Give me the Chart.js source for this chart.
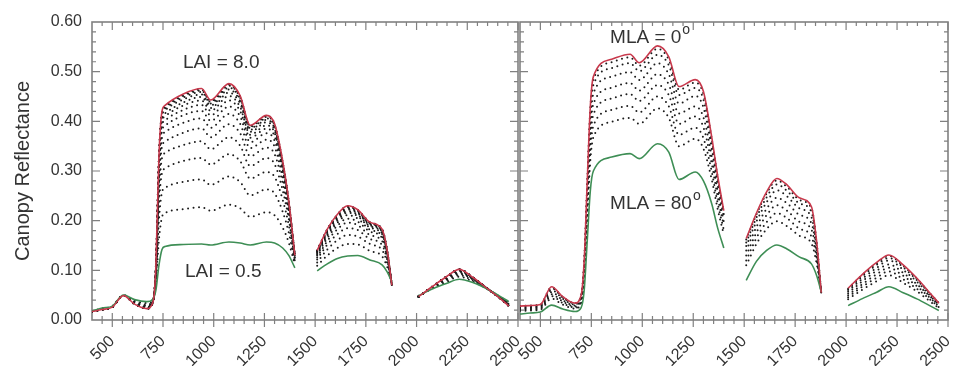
<!DOCTYPE html>
<html>
<head>
<meta charset="utf-8">
<script src="https://cdn.jsdelivr.net/npm/chart.js@4/dist/chart.umd.min.js"></script>
<style>
  html, body { margin: 0; padding: 0; background: #fff; overflow: hidden; width: 958px; height: 366px; }
  #wrap { position: relative; width: 958px; height: 366px; }
  canvas { position: absolute; top: 0; }
  #lai { left: 0; }
  #mla { left: 500px; }
</style>
</head>
<body>
<div id="wrap">
  <canvas id="lai" width="545" height="366"></canvas>
  <canvas id="mla" width="480" height="366"></canvas>
</div>
<script>
// Wavelength grid (nm); null rows split the spectrum at the water absorption bands
const WAVELENGTH = [400,450,500,555,610,670,700,715,730,745,760,850,940,985,1075,1130,1180,1260,1300,1340,1370,1400,1450,
  1510,1560,1610,1660,1710,1770,1830,1855,1878,1950,
  2010,2080,2150,2210,2280,2350,2410,2455];
const X_TICKS = [500, 750, 1000, 1250, 1500, 1750, 2000, 2250, 2500];

// Canopy reflectance for leaf area index 0.5 ... 8.0
const LAI_0_5 = [.018,.024,.028,.050,.041,.037,.042,.060,.110,.142,.148,.152,.153,.151,.157,.155,.151,.157,.155,.145,.130,.105,null,.099,.113,.124,.129,.130,.121,.111,.097,.077,null,.049,.063,.074,.082,.075,.062,.048,.037];
const LAI_1_0 = [.018,.023,.028,.050,.039,.034,.040,.072,.162,.207,.215,.223,.227,.220,.232,.225,.208,.217,.211,.186,.156,.111,null,.109,.130,.145,.153,.152,.139,.128,.107,.075,null,.049,.064,.077,.087,.077,.062,.047,.035];
const LAI_1_5 = [.018,.023,.027,.050,.037,.031,.039,.081,.201,.257,.266,.278,.283,.272,.289,.278,.251,.263,.255,.218,.176,.115,null,.116,.142,.161,.171,.168,.153,.141,.115,.074,null,.048,.065,.080,.090,.079,.062,.046,.033];
const LAI_2_0 = [.017,.022,.027,.049,.036,.029,.038,.088,.232,.296,.305,.320,.326,.313,.334,.320,.285,.298,.288,.242,.191,.119,null,.122,.152,.173,.185,.181,.163,.151,.121,.073,null,.048,.066,.082,.093,.081,.063,.046,.032];
const LAI_2_5 = [.017,.022,.027,.049,.035,.028,.037,.093,.255,.326,.336,.352,.360,.344,.368,.351,.310,.326,.314,.261,.203,.122,null,.126,.159,.183,.196,.191,.171,.159,.125,.072,null,.048,.066,.083,.095,.082,.063,.045,.031];
const LAI_3_0 = [.017,.022,.026,.049,.034,.027,.037,.097,.274,.349,.359,.377,.386,.368,.394,.376,.330,.347,.334,.275,.212,.124,null,.130,.165,.190,.204,.198,.178,.165,.129,.072,null,.048,.067,.084,.097,.082,.063,.045,.030];
const LAI_3_5 = [.017,.022,.026,.049,.034,.026,.036,.100,.288,.367,.378,.397,.406,.387,.415,.395,.346,.363,.349,.286,.219,.125,null,.132,.170,.196,.211,.204,.182,.169,.132,.071,null,.047,.067,.085,.098,.083,.063,.045,.030];
const LAI_4_0 = [.017,.021,.026,.049,.033,.025,.036,.103,.299,.380,.391,.412,.421,.401,.430,.410,.358,.376,.361,.295,.224,.126,null,.134,.173,.200,.216,.209,.186,.173,.134,.071,null,.047,.067,.086,.099,.084,.063,.045,.029];
const LAI_4_5 = [.017,.021,.026,.049,.033,.025,.036,.105,.307,.391,.402,.423,.433,.412,.442,.421,.367,.385,.370,.302,.228,.127,null,.136,.176,.204,.219,.212,.189,.175,.135,.071,null,.047,.067,.087,.100,.084,.063,.044,.029];
const LAI_5_0 = [.017,.021,.026,.049,.033,.024,.036,.106,.313,.399,.410,.432,.442,.421,.451,.429,.373,.392,.377,.307,.232,.128,null,.137,.178,.206,.222,.215,.191,.178,.137,.071,null,.047,.068,.087,.101,.084,.063,.044,.029];
const LAI_5_5 = [.017,.021,.026,.049,.033,.024,.035,.107,.318,.405,.416,.438,.449,.427,.458,.436,.379,.398,.382,.310,.234,.129,null,.138,.179,.208,.224,.217,.193,.179,.138,.070,null,.047,.068,.087,.101,.085,.063,.044,.028];
const LAI_6_0 = [.017,.021,.026,.049,.032,.023,.035,.108,.322,.410,.422,.444,.454,.432,.464,.441,.383,.403,.386,.314,.236,.129,null,.139,.180,.210,.226,.219,.194,.180,.138,.070,null,.047,.068,.088,.101,.085,.063,.044,.028];
const LAI_6_5 = [.017,.021,.026,.049,.032,.023,.035,.109,.325,.413,.425,.448,.459,.436,.468,.445,.386,.406,.389,.316,.237,.129,null,.139,.181,.211,.228,.220,.195,.181,.139,.070,null,.047,.068,.088,.102,.085,.063,.044,.028];
const LAI_7_0 = [.017,.021,.026,.049,.032,.023,.035,.109,.327,.416,.428,.451,.462,.439,.472,.448,.389,.409,.392,.318,.239,.130,null,.140,.182,.212,.229,.221,.196,.182,.139,.070,null,.047,.068,.088,.102,.085,.063,.044,.028];
const LAI_7_5 = [.017,.021,.026,.049,.032,.023,.035,.110,.329,.418,.430,.453,.464,.441,.474,.450,.391,.411,.394,.319,.239,.130,null,.140,.183,.212,.229,.221,.197,.183,.140,.070,null,.047,.068,.088,.102,.085,.063,.044,.028];
const LAI_8_0 = [.017,.021,.026,.049,.032,.023,.035,.110,.330,.420,.432,.455,.466,.443,.476,.452,.392,.412,.395,.320,.240,.130,null,.140,.183,.213,.230,.222,.197,.183,.140,.070,null,.047,.068,.088,.102,.085,.063,.044,.028];
const LAI_INTERMEDIATE = [LAI_1_0, LAI_1_5, LAI_2_0, LAI_2_5, LAI_3_0, LAI_3_5, LAI_4_0, LAI_4_5, LAI_5_0, LAI_5_5, LAI_6_0, LAI_6_5, LAI_7_0, LAI_7_5];

// Canopy reflectance for mean leaf angle 0 ... 80 degrees
const MLA_00 = [.028,.029,.031,.067,.047,.034,.050,.120,.280,.430,.490,.525,.535,.518,.552,.530,.470,.484,.460,.370,.290,.220,null,.164,.215,.258,.285,.272,.246,.228,.160,.055,null,.064,.092,.116,.131,.111,.083,.055,.034];
const MLA_10 = [.028,.029,.031,.066,.046,.034,.049,.118,.276,.425,.484,.519,.529,.512,.546,.524,.464,.478,.455,.366,.287,.218,null,.162,.212,.255,.281,.268,.242,.225,.158,.055,null,.063,.091,.114,.129,.109,.082,.054,.034];
const MLA_20 = [.027,.028,.030,.064,.045,.033,.048,.115,.269,.415,.473,.507,.517,.501,.534,.513,.453,.467,.444,.358,.281,.213,null,.156,.206,.247,.273,.260,.235,.218,.154,.055,null,.061,.088,.111,.125,.106,.079,.053,.033];
const MLA_30 = [.025,.026,.028,.060,.043,.031,.046,.109,.258,.399,.456,.490,.499,.483,.517,.495,.436,.451,.428,.346,.271,.207,null,.149,.198,.237,.261,.249,.225,.207,.147,.055,null,.058,.083,.105,.120,.101,.076,.050,.031];
const MLA_40 = [.023,.025,.027,.056,.040,.029,.043,.103,.245,.381,.435,.468,.477,.462,.495,.474,.416,.430,.408,.331,.260,.198,null,.140,.187,.224,.246,.235,.212,.195,.140,.056,null,.054,.078,.099,.112,.095,.071,.048,.030];
const MLA_50 = [.022,.023,.025,.052,.037,.027,.040,.096,.232,.362,.414,.446,.455,.441,.473,.453,.395,.410,.388,.316,.248,.190,null,.130,.176,.211,.231,.220,.198,.182,.132,.056,null,.050,.072,.092,.105,.089,.067,.045,.028];
const MLA_60 = [.020,.021,.023,.048,.034,.025,.037,.089,.218,.342,.391,.423,.431,.418,.450,.430,.373,.387,.366,.300,.235,.181,null,.120,.165,.197,.215,.205,.184,.168,.124,.056,null,.046,.067,.085,.098,.082,.062,.042,.026];
const MLA_70 = [.018,.019,.021,.043,.031,.023,.034,.082,.203,.321,.368,.399,.407,.395,.426,.407,.350,.365,.345,.284,.223,.172,null,.110,.153,.183,.199,.189,.170,.154,.115,.056,null,.042,.061,.078,.090,.075,.057,.038,.024];
const MLA_80 = [.012,.014,.016,.030,.022,.017,.025,.060,.160,.260,.300,.328,.335,.325,.355,.338,.283,.298,.280,.235,.185,.145,null,.080,.118,.140,.151,.143,.127,.113,.090,.057,null,.029,.043,.056,.067,.055,.042,.029,.019];
const MLA_INTERMEDIATE = [MLA_10, MLA_20, MLA_30, MLA_40, MLA_50, MLA_60, MLA_70];

const RED = '#c8394c';
const GREEN = '#3e8e55';
const DOTS = '#1c1c1c';
const FRAME = '#808080';
const TEXT = '#333333';

Chart.defaults.font.family = '"Liberation Sans", Arial, Helvetica, sans-serif';

const points = vals => WAVELENGTH.map((w, i) => ({ x: w, y: vals[i] }));

const solid = (label, vals, color) => ({
  label, data: points(vals), borderColor: color, borderWidth: 1.6,
  pointRadius: 0, fill: false
});
const dotted = (vals, i) => ({
  label: 'step ' + (i + 1), data: points(vals), borderColor: DOTS, borderWidth: 2,
  borderDash: [0, 5.5], borderCapStyle: 'round', pointRadius: 0, fill: false
});

// Panel frame with crossing ticks along the bottom and inward ticks on the other sides
const framePlugin = {
  id: 'panelFrame',
  beforeDatasetsDraw(chart) {
    const { ctx, chartArea: a, scales: { x, y } } = chart;
    ctx.save();
    ctx.strokeStyle = FRAME;
    ctx.lineWidth = 1.6;
    ctx.strokeRect(a.left, a.top, a.right - a.left, a.bottom - a.top);
    ctx.lineWidth = 1.2;
    ctx.beginPath();
    for (let v = 450; v <= 2500; v += 50) {
      const px = x.getPixelForValue(v);
      const major = v % 250 === 0;
      const down = major ? 7 : 4;
      ctx.moveTo(px, a.bottom - down);
      ctx.lineTo(px, a.bottom + down);
      ctx.moveTo(px, a.top);
      ctx.lineTo(px, a.top + (major ? 8 : 4));
    }
    for (let k = 1; k < 30; k++) {
      const py = y.getPixelForValue(k * 0.02);
      const len = k % 5 === 0 ? 8 : 4;
      ctx.moveTo(a.left, py);
      ctx.lineTo(a.left + len, py);
      ctx.moveTo(a.right, py);
      ctx.lineTo(a.right - len, py);
    }
    ctx.stroke();
    ctx.restore();
  }
};

// In-plot labels anchored to wavelength / reflectance coordinates
const notesPlugin = {
  id: 'notes',
  afterDraw(chart, args, opts) {
    const { ctx, scales: { x, y } } = chart;
    ctx.save();
    ctx.fillStyle = TEXT;
    ctx.textBaseline = 'alphabetic';
    ctx.textAlign = 'left';
    for (const n of opts.items || []) {
      const px = x.getPixelForValue(n.x);
      const py = y.getPixelForValue(n.y);
      ctx.font = '19px "Liberation Sans", Arial, sans-serif';
      ctx.fillText(n.text, px, py);
      if (n.sup) {
        const w = ctx.measureText(n.text).width;
        ctx.font = '14px "Liberation Sans", Arial, sans-serif';
        ctx.fillText(n.sup, px + w + 1, py - 9);
      }
    }
    ctx.restore();
  }
};

function panelOptions(showY, padding, notes) {
  return {
    responsive: false,
    animation: false,
    devicePixelRatio: 1,
    layout: { padding },
    elements: { line: { cubicInterpolationMode: 'monotone' }, point: { radius: 0 } },
    plugins: {
      legend: { display: false },
      tooltip: { enabled: false },
      notes: { items: notes }
    },
    scales: {
      x: {
        type: 'linear', min: 400, max: 2500,
        grid: { display: false, drawTicks: false },
        border: { display: false },
        afterBuildTicks: s => { s.ticks = X_TICKS.map(v => ({ value: v })); },
        afterFit: s => { s.height = 46; },
        ticks: {
          autoSkip: false, minRotation: 45, maxRotation: 45, padding: 12,
          color: TEXT, font: { size: 16 }, callback: v => String(v)
        }
      },
      y: {
        type: 'linear', min: 0, max: 0.6, display: showY,
        grid: { display: false, drawTicks: false },
        border: { display: false },
        afterFit: s => { s.width = showY ? 92 : 0; },
        ticks: { stepSize: 0.1, padding: 10, color: TEXT, font: { size: 16 }, callback: v => v.toFixed(2) },
        title: {
          display: showY, text: 'Canopy Reflectance', color: TEXT,
          font: { size: 20 }, padding: { top: 11, bottom: 0 }
        }
      }
    }
  };
}

new Chart(document.getElementById('lai'), {
  type: 'line',
  data: {
    datasets: [
      solid('LAI = 8.0', LAI_8_0, RED),
      solid('LAI = 0.5', LAI_0_5, GREEN),
      ...LAI_INTERMEDIATE.map(dotted)
    ]
  },
  options: panelOptions(true, { left: 0, right: 27, top: 22, bottom: 0 }, [
    { text: 'LAI = 8.0', x: 848, y: 0.507 },
    { text: 'LAI = 0.5', x: 858, y: 0.0865 }
  ]),
  plugins: [framePlugin, notesPlugin]
});

new Chart(document.getElementById('mla'), {
  type: 'line',
  data: {
    datasets: [
      solid('MLA = 0', MLA_00, RED),
      solid('MLA = 80', MLA_80, GREEN),
      ...MLA_INTERMEDIATE.map(dotted)
    ]
  },
  options: panelOptions(false, { left: 20, right: 32, top: 22, bottom: 0 }, [
    { text: 'MLA = 0', sup: 'o', x: 842, y: 0.557 },
    { text: 'MLA = 80', sup: 'o', x: 842, y: 0.223 }
  ]),
  plugins: [framePlugin, notesPlugin]
});
</script>
</body>
</html>
